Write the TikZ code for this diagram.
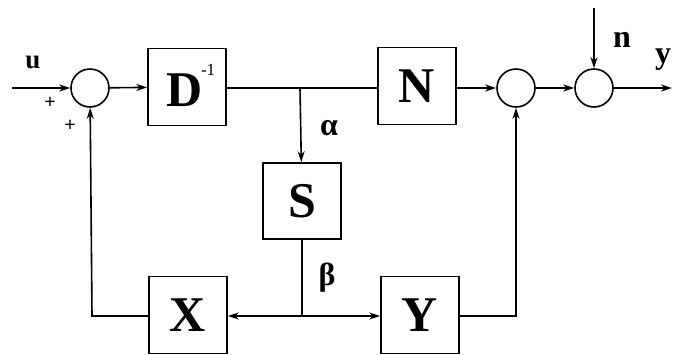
\documentclass[tikz,border=0pt]{standalone}
\usepackage{fontspec}
\setmainfont{Liberation Serif}
\usetikzlibrary{arrows.meta}
\newcommand{\invexp}{\rlap{\hspace{-2pt}\raisebox{31pt}{\fontsize{17}{17}\selectfont\mdseries -1}}}
\begin{document}
\begin{tikzpicture}[x=1pt,y=-1pt,
  line width=1.6pt,
  blk/.style={draw,minimum width=78pt,minimum height=77pt,inner sep=0pt,font=\fontsize{50}{50}\selectfont\bfseries},
  sumc/.style={draw,circle,minimum size=38pt,inner sep=0pt},
  lbl/.style={font=\fontsize{32}{32}\selectfont\bfseries},
  sgn/.style={font=\fontsize{20}{20}\selectfont\bfseries},
  sig/.style={-{Stealth[length=11pt,width=7pt]}}]
\useasboundingbox (0,0) rectangle (682,354);
% summing junctions
\node[sumc] (s1) at (90,88) {};
\node[sumc] (s2) at (516,88) {};
\node[sumc] (s3) at (594,88) {};
% blocks
\node[blk] (D) at (187,87) {};
\node[font=\fontsize{50}{50}\selectfont\bfseries,inner sep=0pt] (Dlbl) at ([yshift=2pt]D.center) {\hspace{-4pt}D\invexp};
\node[blk] (N) at (417,86) {N};
\node[blk,minimum height=76pt] (S) at (302,201) {S};
\node[blk] (X) at (188,315) {X};
\node[blk] (Y) at (420,315) {Y};
% branch points and free ends
\coordinate (a) at (300,88);
\coordinate (b) at (302,316);
\coordinate (in) at (12,88);
\coordinate (out) at (672,88);
\coordinate (nin) at (594,8);
\coordinate (fx) at (92,316);
\coordinate (fy) at (516,316);
% forward path
\draw[sig] (in) -- (s1);
\draw[sig] (s1) -- (D);
\draw (D.east |- a) -- (N.west |- a);
\draw[sig] (a) -- (S);
\draw[sig] (N.east |- s2) -- (s2);
\draw[sig] (s2) -- (s3);
\draw[sig] (s3) -- (out);
\draw[sig] (nin) -- (s3);
% feedback paths
\draw (S) -- (b);
\draw[sig] (b) -- (X.east |- b);
\draw[sig] (b) -- (Y.west |- b);
\draw[sig] (X.west |- fx) -- (fx) -- (s1);
\draw[sig] (Y.east |- fy) -- (fy) -- (s2);
% labels
\node[lbl,font=\fontsize{27}{27}\selectfont\bfseries] (lu) at (33,62) {u};
\node[sgn] (p1) at (50,103) {+};
\node[sgn] (p2) at (70,126) {+};
\node[lbl] (la) at (329,128) {α};
\node[lbl] (lb) at (327,278) {β};
\node[lbl] (ln) at (622,40) {n};
\node[lbl] (ly) at (663,60) {y};
\end{tikzpicture}
\end{document}
